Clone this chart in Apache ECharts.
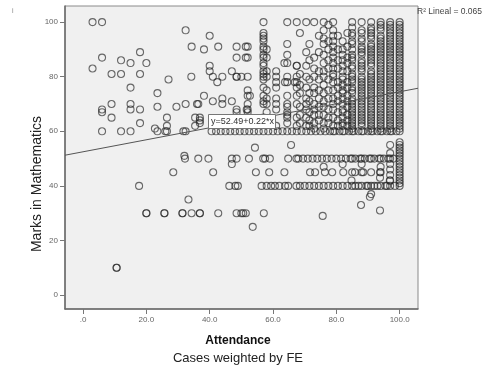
<!DOCTYPE html>
<html>
<head>
<meta charset="utf-8">
<script src="https://cdn.jsdelivr.net/npm/echarts@6/dist/echarts.min.js"></script>
<style>
  html, body { margin: 0; padding: 0; background: #fff; }
  #chart { width: 486px; height: 367px; }
</style>
</head>
<body>
<div id="chart"></div>
<script>
// tick values on both axes
var xTicks = [0, 20, 40, 60, 80, 100];
var yTicks = [0, 20, 40, 60, 80, 100];

// fit line: y = a + b*x
var fitA = 52.49;
var fitB = 0.22;
var fitR2 = 0.065;

// loose points [attendance, marks]
var loosePoints = [
  [3, 100], [6, 100], [6, 87], [3, 83], [12, 86], [15, 85], [18, 89], [20, 85],
  [9, 81], [12, 81], [18, 81], [27, 79], [15, 76], [23.5, 74], [9, 70], [6, 68],
  [6, 67], [15, 70], [15, 68], [18, 68], [23.5, 69], [29.5, 69], [9, 65], [18, 63],
  [26.5, 65], [26.5, 62], [6, 60], [12, 60], [15, 60], [22.7, 61], [23.5, 60],
  [26, 60], [26.5, 60], [31.7, 60], [32.4, 60],
  [32.4, 97], [34.3, 91], [38.2, 90], [40, 95], [42.7, 91], [51.4, 91], [51.4, 87],
  [34.2, 80], [40, 84], [40, 82], [41, 80], [44, 80], [42.4, 78], [47, 82],
  [48.5, 80], [50, 80], [63.6, 85], [66.9, 78], [63.8, 78], [67.5, 84],
  [32.4, 70], [36, 70], [36.4, 70], [38.2, 73], [41, 71], [44, 72], [44, 70], [47, 71],
  [35.4, 65], [36.9, 65], [36.9, 64], [35.4, 62], [36.9, 63], [52.7, 73], [51.7, 68],
  [54.3, 54], [65.7, 55], [32, 51], [28.5, 45], [47, 48],
  [17.7, 40], [10.6, 10], [10.6, 10], [33.3, 35], [53.6, 25], [75.7, 29],
  [87.8, 33], [93.8, 31], [90.6, 36], [84.8, 42], [96.9, 42], [93.8, 43]
];

// points stacked at one attendance value
var colX = [100, 97, 94, 91, 88, 85, 82, 79, 76, 73, 70.5, 67.5, 64.5, 61, 58, 57, 52, 48.5,
            83.5, 80.5, 77.5, 74.5, 71.5, 68.5];
var colY = [
  [100, 99, 98, 97, 96, 95, 94, 93, 92, 91, 90, 89, 88, 87, 86, 85, 84, 83, 82, 81, 80,
   79, 78, 77, 76, 75, 74, 73, 72, 71, 70, 69, 68, 67, 66, 65, 64, 63, 62, 61, 60,
   56, 55, 54, 53, 52, 51, 50, 49, 48, 47, 46, 45, 44, 43, 42, 41, 40],
  [100, 99, 98, 97, 96, 95, 94, 93, 92, 91, 90, 89, 88, 87, 86, 85, 84, 83, 82, 81, 80,
   79, 78, 77, 76, 75, 74, 73, 72, 71, 70, 69, 68, 67, 66, 65, 64, 63, 62, 61, 60,
   55, 52, 50, 48, 46, 44, 42, 40],
  [100, 99, 98, 97, 95, 94, 93, 92, 91, 90, 89, 88, 87, 86, 85, 84, 83, 82, 81, 80,
   79, 78, 77, 76, 75, 74, 73, 72, 71, 70, 69, 68, 67, 66, 65, 64, 63, 62, 61, 60,
   50, 47, 45, 40],
  [100, 98, 97, 96, 95, 94, 92, 91, 90, 89, 88, 87, 86, 85, 84, 82, 81, 80,
   79, 78, 77, 76, 75, 74, 73, 72, 71, 70, 69, 68, 67, 66, 65, 64, 63, 62, 61, 60,
   50, 45, 40, 37],
  [100, 97, 96, 94, 93, 91, 90, 89, 88, 86, 85, 84, 83, 82, 80,
   79, 78, 77, 76, 75, 74, 73, 72, 71, 70, 69, 68, 67, 66, 65, 64, 63, 62, 60,
   50, 48, 45, 40],
  [100, 98, 96, 95, 93, 92, 90, 88, 87, 86, 84, 83, 81, 80,
   79, 78, 76, 75, 74, 72, 71, 70, 69, 68, 67, 66, 65, 64, 63, 62, 61, 60,
   50, 45, 40],
  [93, 90, 88, 86, 84, 82, 80, 79, 77, 75, 74, 72, 70, 68, 67, 65, 63, 62, 60, 48],
  [100, 97, 95, 93, 91, 89, 87, 85, 83, 81, 80, 78, 75, 72, 70, 68, 65, 62, 60],
  [100, 97, 94, 92, 88, 85, 82, 80, 77, 74, 71, 69, 66, 63, 61, 47],
  [100, 87, 83, 80, 76, 74, 70, 68, 66, 63, 61],
  [100, 89, 84, 80, 76, 72, 70, 68, 65, 62],
  [100, 84, 80, 78, 76, 73, 70, 65, 62],
  [100, 92, 88, 85, 80, 78, 73, 70, 69, 67, 66, 65, 63],
  [82, 80, 78, 76, 72, 70, 68, 62],
  [90, 87, 82, 80, 75, 72, 70, 67],
  [100, 96, 95, 94, 93, 91, 90, 88, 87, 85, 84, 82, 81, 80, 79, 76, 73, 71, 70, 65],
  [91, 87, 80, 75, 73, 70, 68, 67, 65],
  [91, 87, 80, 68, 67, 65],
  [96, 91, 87, 85, 82, 78, 76, 73, 71, 69, 66, 64, 62],
  [95, 90, 86, 83, 78, 76, 73, 71, 67, 64, 62],
  [99, 93, 90, 86, 83, 79, 75, 72, 68, 65, 63],
  [95, 89, 82, 79, 75, 72, 69, 66, 64],
  [92, 86, 79, 74, 71, 67, 64, 62],
  [96, 81, 77, 74, 69, 66, 63]
];

// points lying along one mark value
var rowY = [60, 50, 45, 40, 30];
var rowX = [
  [40.6, 42, 43.5, 45, 46.5, 48, 49.5, 51, 52.5, 54, 55.5, 57, 58.5, 60, 61.5, 63, 64.5,
   66, 67.5, 69, 70.5, 72, 73.5, 75, 76.5, 78, 79.5, 81, 82.5, 84, 85.5, 87, 88.5, 90,
   91.5, 93, 94.5, 96, 97.5, 99],
  [32.2, 36.4, 39.6, 47, 48.5, 52.4, 56.9, 57.5, 59, 64.8, 67.4, 68, 69.5, 71, 72.5, 74,
   75.5, 77, 78.5, 80, 81.5, 83, 84.5, 86, 87.5, 89, 90.5, 92, 93.5, 95, 96.5, 98],
  [41.1, 54.6, 58.8, 63.6, 71.7, 73.3, 76.4, 78.7, 82.2, 85.9, 88.5, 93.8],
  [46.2, 48.1, 48.9, 56.4, 58, 59.4, 60.6, 62, 63.8, 64.8, 67.4, 68.5, 70, 71.5, 73, 74.5,
   76, 77.5, 79, 80.5, 82, 83.5, 86, 87, 89.5, 90, 92, 93, 95.5, 96, 98.5],
  [20, 20, 25.7, 25.7, 31.4, 31.4, 34.3, 36.9, 36.9, 42.7, 48.5, 50, 50.6, 51.4, 57.1]
];

var points = loosePoints.slice();
colX.forEach(function (x, i) {
  colY[i].forEach(function (y) { points.push([x, y]); });
});
rowY.forEach(function (y, i) {
  rowX[i].forEach(function (x) { points.push([x, y]); });
});

var xMin = -5.7, xMax = 105.8;
var fitLine = [[xMin, fitA + fitB * xMin], [xMax, fitA + fitB * xMax]];

var chart = echarts.init(document.getElementById('chart'));
var option = {
  animation: false,
  backgroundColor: '#fff',
  grid: {
    left: 65, right: 68, top: 6, bottom: 58,
    show: true,
    backgroundColor: '#f0f0f0',
    borderColor: '#8a8a8a',
    borderWidth: 1
  },
  xAxis: {
    type: 'value',
    min: xMin,
    max: xMax,
    splitLine: { show: false },
    axisLine: { show: true, onZero: false, lineStyle: { color: '#6a6a6a', width: 1.5 } },
    axisTick: { show: true, customValues: xTicks, length: 5, lineStyle: { color: '#777' } },
    axisLabel: {
      customValues: xTicks,
      color: '#666',
      fontSize: 8,
      fontFamily: 'Liberation Sans',
      margin: 7,
      formatter: function (v) { return v === 0 ? '.0' : v.toFixed(1); }
    }
  },
  yAxis: {
    type: 'value',
    min: -5.1,
    max: 105.9,
    splitLine: { show: false },
    axisLine: { show: true, onZero: false, lineStyle: { color: '#6a6a6a', width: 1.5 } },
    axisTick: { show: true, customValues: yTicks, length: 5, lineStyle: { color: '#777' } },
    axisLabel: {
      customValues: yTicks,
      color: '#666',
      fontSize: 8,
      fontFamily: 'Liberation Sans',
      margin: 7
    }
  },
  series: [
    {
      type: 'scatter',
      data: points,
      symbol: 'circle',
      symbolSize: 7,
      silent: true,
      itemStyle: {
        color: 'rgba(0,0,0,0)',
        borderColor: 'rgba(40,40,40,0.85)',
        borderWidth: 1.1
      },
      z: 2
    },
    {
      type: 'line',
      data: fitLine,
      symbol: 'none',
      silent: true,
      lineStyle: { color: '#555', width: 1 },
      z: 3
    }
  ],
  graphic: [
    {
      type: 'text', left: 12, top: 8,
      style: { text: 'i', fill: '#888', fontSize: 7, fontFamily: 'Liberation Sans' }
    },
    {
      type: 'rect', left: 208, top: 114, z: 100,
      shape: { width: 67, height: 14 },
      style: { fill: '#fff', stroke: '#777', lineWidth: 1 }
    },
    {
      type: 'text', left: 211, top: 117, z: 101,
      style: { text: 'y=52.49+0.22*x', fill: '#333', fontSize: 9, fontFamily: 'Liberation Sans' }
    },
    {
      type: 'text', left: 417, top: 7,
      style: { text: 'R² Lineal = ' + fitR2.toFixed(3), fill: '#444', fontSize: 8.5, fontFamily: 'Liberation Sans' }
    },
    {
      type: 'text', x: 37, y: 184, rotation: Math.PI / 2,
      style: { text: 'Marks in Mathematics', fill: '#222', fontSize: 14, fontFamily: 'Liberation Sans',
               align: 'center', verticalAlign: 'middle' }
    },
    {
      type: 'text', x: 238, y: 341,
      style: { text: 'Attendance', fill: '#111', fontSize: 12, fontWeight: 'bold', fontFamily: 'Liberation Sans',
               align: 'center', verticalAlign: 'middle' }
    },
    {
      type: 'text', x: 238, y: 358,
      style: { text: 'Cases weighted by FE', fill: '#222', fontSize: 13, fontFamily: 'Liberation Sans',
               align: 'center', verticalAlign: 'middle' }
    }
  ]
};
chart.setOption(option);
</script>
</body>
</html>
